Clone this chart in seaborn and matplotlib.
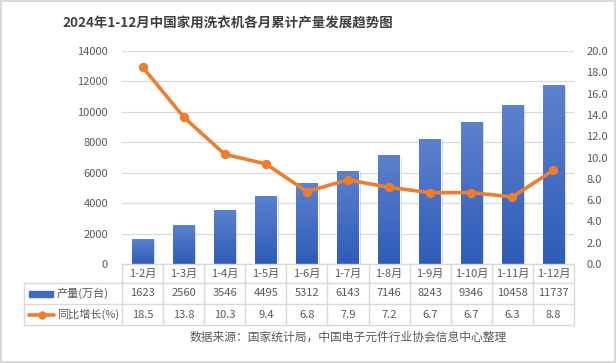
import numpy as np
import pandas as pd
import matplotlib.pyplot as plt
import seaborn as sns
from matplotlib.colors import LinearSegmentedColormap
from matplotlib.lines import Line2D
from matplotlib.patches import Rectangle
import matplotlib.patheffects as pe

# data
months = ["1-2月", "1-3月", "1-4月", "1-5月", "1-6月", "1-7月", "1-8月",
          "1-9月", "1-10月", "1-11月", "1-12月"]
output = [1623, 2560, 3546, 4495, 5312, 6143, 7146, 8243, 9346, 10458, 11737]
growth = [18.5, 13.8, 10.3, 9.4, 6.8, 7.9, 7.2, 6.7, 6.7, 6.3, 8.8]
bar_name = "产量(万台)"
line_name = "同比增长(%)"
title = "2024年1-12月中国家用洗衣机各月累计产量发展趋势图"
source = "数据来源：国家统计局，中国电子元件行业协会信息中心整理"

df = pd.DataFrame({"month": months, "output": output, "growth": growth})

sns.set_style("white")
plt.rcParams["font.family"] = ["Noto Sans CJK SC", "DejaVu Sans"]

W, H = 616, 363
fig = plt.figure(figsize=(W / 100, H / 100), dpi=100)
fig.patch.set_edgecolor("#d9d9d9")
fig.patch.set_linewidth(1.5)

def fx(px):
    return px / W

def fy(py):
    return 1 - py / H

# plot area in pixels
L, R, T, B = 122, 574, 51, 264
ax = fig.add_axes([fx(L), fy(B), fx(R - L), (B - T) / H])
txt = "#595959"
grid = "#d9d9d9"

# ======================
# bars (left axis)
# ======================
sns.barplot(data=df, x="month", y="output", color="#4472c4", width=0.52,
            ax=ax, zorder=2)
cmap = LinearSegmentedColormap.from_list("bar", ["#2f5cb9", "#5c81cd"])
gradient = np.linspace(0, 1, 256).reshape(-1, 1)
for p in ax.patches:
    x0, y0, w, h = p.get_x(), p.get_y(), p.get_width(), p.get_height()
    p.set_path_effects([pe.SimplePatchShadow(offset=(1.5, -1), shadow_rgbFace="#808080", alpha=0.35),
                        pe.Normal()])
    im = ax.imshow(gradient, cmap=cmap, extent=[x0, x0 + w, y0, y0 + h],
                   origin="lower", aspect="auto", zorder=2.5)
    im.set_clip_path(p)

ax.set_xlim(-0.5, len(months) - 0.5)
ax.set_ylim(0, 14000)
ax.set_yticks(range(0, 14001, 2000))
ax.set_xticks([])
ax.set_xlabel("")
ax.set_ylabel("")
ax.grid(axis="y", color=grid, linewidth=0.9, zorder=0)
ax.set_axisbelow(True)
ax.tick_params(axis="y", length=0, pad=10, labelsize=8, labelcolor=txt)
for s in ax.spines.values():
    s.set_visible(False)

# ======================
# line (right axis)
# ======================
ax2 = ax.twinx()
sns.lineplot(data=df, x="month", y="growth", color="#ed7d31", linewidth=2.6,
             marker="o", markersize=6, markeredgecolor="#ed7d31", ax=ax2)
ax2.set_xlim(-0.5, len(months) - 0.5)
ax2.set_ylim(0, 20)
ax2.set_yticks(np.arange(0, 20.1, 2))
ax2.set_yticklabels([f"{v:.1f}" for v in np.arange(0, 20.1, 2)])
ax2.set_xticks([])
ax2.set_xlabel("")
ax2.set_ylabel("")
ax2.tick_params(axis="y", length=0, pad=9, labelsize=8, labelcolor=txt)
for s in ax2.spines.values():
    s.set_visible(False)

# ======================
# data table
# ======================
rows = [264, 283, 304, 325]
tl = 24
colw = (R - L) / len(months)

def hline(x0, x1, y):
    fig.add_artist(Line2D([fx(x0), fx(x1)], [fy(y), fy(y)], color=grid, lw=1))

def vline(x, y0, y1):
    fig.add_artist(Line2D([fx(x), fx(x)], [fy(y0), fy(y1)], color=grid, lw=1))

hline(L, R, rows[0])
for y in rows[1:]:
    hline(tl, R, y)
for i in range(len(months) + 1):
    vline(L + i * colw, rows[0], rows[3])
vline(tl, rows[1], rows[3])

for i, m in enumerate(months):
    cx = fx(L + (i + 0.5) * colw)
    fig.text(cx, fy((rows[0] + rows[1]) / 2), m, ha="center", va="center",
             fontsize=8, color=txt)
    fig.text(cx, fy((rows[1] + rows[2]) / 2), f"{output[i]}", ha="center",
             va="center", fontsize=8, color=txt)
    fig.text(cx, fy((rows[2] + rows[3]) / 2), f"{growth[i]:.1f}", ha="center",
             va="center", fontsize=8, color=txt)

# legend keys inside the table
yb = (rows[1] + rows[2]) / 2
fig.add_artist(Rectangle((fx(29), fy(yb + 3)), fx(24), 6 / H, color="#3f69c2",
                         transform=fig.transFigure))
fig.text(fx(57), fy(yb), bar_name, ha="left", va="center", fontsize=8, color=txt)
yl = (rows[2] + rows[3]) / 2
fig.add_artist(Line2D([fx(29), fx(54)], [fy(yl), fy(yl)], color="#ed7d31", lw=2.6))
fig.add_artist(Line2D([fx(41.5)], [fy(yl)], color="#ed7d31", marker="o", markersize=5))
fig.text(fx(57), fy(yl), line_name, ha="left", va="center", fontsize=8, color=txt)

# ======================
# title and source
# ======================
fig.text(fx(62), fy(24), title, ha="left", va="center", fontsize=9.7,
         fontweight="bold", color="#404040")
fig.text(fx(348), fy(337), source, ha="center", va="center", fontsize=8.5,
         color=txt)

fig.savefig("out.png", dpi=100)
plt.close(fig)
